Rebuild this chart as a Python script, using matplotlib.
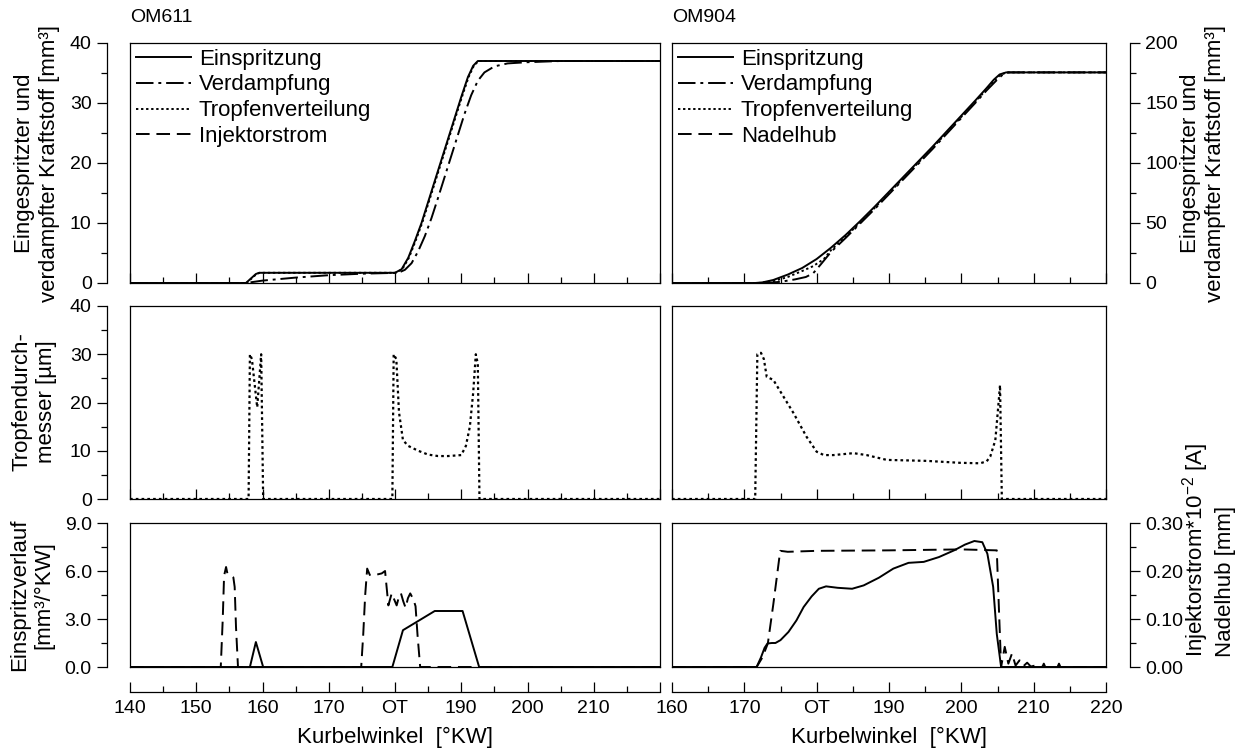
import matplotlib
matplotlib.use("Agg")
import matplotlib.pyplot as plt
from matplotlib.lines import Line2D
from matplotlib.ticker import MultipleLocator, FormatStrFormatter, FixedLocator

plt.rcParams['font.family'] = ['Liberation Sans', 'DejaVu Sans']
plt.rcParams['mathtext.fontset'] = 'custom'
plt.rcParams['mathtext.rm'] = 'Liberation Sans'
plt.rcParams['mathtext.it'] = 'Liberation Sans:italic'

# ---------------- data: OM611 ----------------
tl_x_inj = [140, 157.5, 158.3, 159.0, 159.5, 180.0, 181.0, 182.0, 183.0, 184.0, 185.0, 186.0,
            187.0, 188.0, 189.0, 190.0, 191.0, 191.8, 192.5, 220]
tl_inj = [0, 0, 0.8, 1.5, 1.7, 1.7, 2.3, 4.2, 7.0, 10.0, 13.5, 17.0,
          20.5, 24.0, 27.5, 31.0, 34.3, 36.2, 37.0, 37.0]
tl_x_vap = [140, 157.5, 160, 165, 170, 175, 180.5, 181.5, 182.5, 183.5, 184.5, 185.5, 186.5,
            187.5, 188.5, 189.5, 190.5, 191.5, 192.5, 193.5, 195, 197, 200, 205, 220]
tl_vap = [0, 0, 0.4, 0.9, 1.3, 1.55, 1.7, 2.2, 3.3, 5.3, 7.8, 10.8, 14.2,
          17.7, 21.2, 24.7, 28.2, 31.3, 33.7, 35.1, 36.1, 36.6, 36.8, 37.0, 37.0]
tl_x_drop = [140, 157.6, 158.4, 159.1, 159.6, 180.1, 181.1, 182.1, 183.1, 184.1, 185.1, 186.1,
             187.1, 188.1, 189.1, 190.1, 191.1, 191.9, 192.6, 220]
tl_drop = [0, 0, 0.8, 1.5, 1.7, 1.7, 2.3, 4.2, 7.0, 10.0, 13.5, 17.0,
           20.5, 24.0, 27.5, 31.0, 34.3, 36.2, 37.0, 37.0]

ml_x = [140, 157.9, 158.1, 158.4, 159.2, 159.8, 160.1, 179.6, 179.8, 180.2, 180.6, 181.2, 182.0,
        183.5, 185.0, 186.5, 188.0, 190.0, 190.7, 191.3, 191.8, 192.2, 192.5, 192.75, 220]
ml_d = [0, 0, 30, 29, 19, 30, 0, 0, 30, 29, 18, 12.2, 11.0,
        10.0, 9.2, 8.9, 8.9, 9.1, 11.0, 15.0, 22.0, 30.0, 28.0, 0, 0]

bl_x_cur = [140, 153.7, 154.0, 154.2, 154.5, 154.7, 155.0, 155.6, 155.8, 156.0, 156.3, 174.9,
            175.2, 175.5, 175.8, 176.2, 177.0, 178.0, 178.5, 179.0, 179.5, 179.9, 180.25, 180.6,
            180.9, 181.25, 181.6, 181.95, 182.3, 182.8, 183.1, 183.4, 183.8, 220]
bl_cur = [0, 0, 3.0, 5.7, 6.25, 5.85, 5.8, 5.6, 5.0, 2.5, 0, 0,
          2.0, 4.5, 6.15, 5.75, 5.75, 5.85, 6.0, 3.85, 4.6, 4.2, 3.85, 4.4,
          4.6, 4.1, 3.7, 4.3, 4.6, 4.2, 3.8, 2.0, 0, 0]
bl_x_rate = [140, 158.1, 159.0, 160.1, 179.6, 181.2, 186.0, 190.2, 192.7, 220]
bl_rate = [0, 0, 1.56, 0, 0, 2.3, 3.5, 3.5, 0, 0]

# ---------------- data: OM904 ----------------
tr_x_inj = [160, 171.5, 172.5, 174, 176, 178, 180, 182, 184, 186, 188, 190, 192, 194, 196,
            198, 200, 202, 203.5, 204.5, 205.3, 206.2, 220]
tr_inj = [0, 0, 0.5, 2.5, 7, 12.5, 20, 29.5, 40, 51.5, 63.5, 76, 88.5, 101, 113.5,
          126.5, 139.5, 152.5, 162.5, 169.5, 173.8, 175.5, 175.5]
tr_x_vap = [160, 173, 175, 177, 178.5, 179.5, 180.5, 182, 184, 186, 188, 190, 192, 194, 196,
            198, 200, 202, 203.5, 204.8, 205.6, 206.5, 220]
tr_vap = [0, 0, 1, 3, 5, 8, 15, 26, 37.5, 49.5, 61.5, 74, 86.5, 99, 111.5,
          124.5, 137.5, 150.5, 160.5, 168.5, 173, 175.5, 175.5]
tr_x_drop = [160, 172, 174, 176, 178, 179.5, 181, 182, 184, 186, 188, 190, 192, 194, 196,
             198, 200, 202, 203.5, 204.6, 205.4, 206.3, 220]
tr_drop = [0, 0, 1.5, 5, 10, 14, 20, 27.5, 38.5, 50.5, 62.5, 75, 87.5, 100, 112.5,
           125.5, 138.5, 151.5, 161.5, 169, 173.5, 175.5, 175.5]

mr_x = [160, 171.5, 171.8, 172.3, 172.7, 173.1, 174.0, 175.5, 176.8, 178.6, 180.0, 181.0, 182.3,
        185.1, 186.9, 189.7, 192.5, 195.2, 199.8, 202.6, 203.5, 204.0, 204.7, 205.1, 205.35,
        205.6, 220]
mr_d = [0, 0, 30, 30.3, 29, 25.3, 24.7, 21, 17.8, 12.9, 9.8, 9.1, 9.1,
        9.5, 9.1, 8.1, 8.0, 7.9, 7.5, 7.4, 7.8, 8.8, 12.2, 19.1, 23.6,
        0, 0]

br_x_needle = [160, 171.7, 172.5, 173.25, 174.0, 174.96, 175.5, 176, 180, 190, 200, 204.9,
               205.2, 205.5, 206.0, 206.5, 207.0, 207.5, 208.05, 208.6, 209.1, 209.6, 210.2,
               211.2, 211.4, 211.6, 213.3, 213.5, 213.7, 220]
br_needle = [0, 0, 0.02, 0.049, 0.13, 0.242, 0.241, 0.240, 0.242, 0.243, 0.245, 0.243,
             0.12, 0, 0.042, 0.007, 0.028, 0.003, 0.014, 0.002, 0.009, 0.001, 0.003,
             0, 0.007, 0, 0, 0.007, 0, 0]
br_x_rate = [160, 171.7, 172.3, 172.8, 173.2, 173.8, 174.3, 175.0, 176.1, 177.2, 178.2, 179.3,
             180.3, 181.3, 182.9, 184.9, 186.5, 188.6, 190.6, 192.7, 194.8, 196.9, 199.0,
             200.5, 201.8, 202.9, 203.6, 204.4, 204.9, 205.5, 220]
br_rate = [0, 0, 0.02, 0.04, 0.049, 0.05, 0.05, 0.056, 0.073, 0.097, 0.125, 0.147,
           0.163, 0.168, 0.165, 0.163, 0.170, 0.186, 0.205, 0.217, 0.219, 0.229, 0.243,
           0.255, 0.2625, 0.260, 0.236, 0.167, 0.069, 0, 0]

left_xlabels = ['140', '150', '160', '170', 'OT', '190', '200', '210', '']
right_xlabels = ['160', '170', 'OT', '190', '200', '210', '220']

# ---------------- styles ----------------
W, H = 1251, 751
FS_TICK = 14
FS_LAB = 16
LW = 1.4
ls_solid = '-'
ls_dashdot = (0, (9, 2.5, 1.5, 2.5))
ls_dot = (0, (1.2, 1.4))
ls_dash = (0, (7, 3.5))

fig = plt.figure(figsize=(W / 100, H / 100), dpi=100)


def rect(x0, x1, y0, y1):
    return [x0 / W, 1 - y1 / H, (x1 - x0) / W, (y1 - y0) / H]


LX = (130, 660)
RX = (672, 1106)
TY = (43, 283)
MY = (306, 499)
BY = (523, 667)

axes = {}
for name, xr, yr in [('tl', LX, TY), ('ml', LX, MY), ('bl', LX, BY),
                     ('tr', RX, TY), ('mr', RX, MY), ('br', RX, BY)]:
    ax = fig.add_axes(rect(xr[0], xr[1], yr[0], yr[1]))
    for s in ax.spines.values():
        s.set_linewidth(0.9)
    ax.tick_params(axis='y', left=False, labelleft=False)
    if name[1] == 'l':
        ax.set_xlim(140, 220)
    else:
        ax.set_xlim(160, 220)
    ax.xaxis.set_major_locator(MultipleLocator(10))
    ax.xaxis.set_minor_locator(MultipleLocator(5))
    if name[0] == 'b':
        ax.tick_params(axis='x', which='both', bottom=False, labelbottom=False)
    else:
        ax.tick_params(axis='x', which='both', direction='in', labelbottom=False, width=0.9)
        ax.tick_params(axis='x', which='major', length=7)
        ax.tick_params(axis='x', which='minor', length=4)
    axes[name] = ax

# top panels
ax = axes['tl']
ax.set_ylim(0, 40)
ax.plot(tl_x_drop, tl_drop, color='black', lw=LW, linestyle=ls_dot)
ax.plot(tl_x_vap, tl_vap, color='black', lw=LW, linestyle=ls_dashdot)
ax.plot(tl_x_inj, tl_inj, color='black', lw=LW, linestyle=ls_solid)

ax = axes['tr']
ax.set_ylim(0, 200)
ax.plot(tr_x_drop, tr_drop, color='black', lw=LW, linestyle=ls_dot)
ax.plot(tr_x_vap, tr_vap, color='black', lw=LW, linestyle=ls_dashdot)
ax.plot(tr_x_inj, tr_inj, color='black', lw=LW, linestyle=ls_solid)

# middle panels
axes['ml'].set_ylim(0, 40)
axes['ml'].plot(ml_x, ml_d, color='black', lw=1.6, linestyle=ls_dot)
axes['mr'].set_ylim(0, 40)
axes['mr'].plot(mr_x, mr_d, color='black', lw=1.6, linestyle=ls_dot)

# bottom panels
ax = axes['bl']
ax.set_ylim(0, 9)
ax.plot(bl_x_cur, bl_cur, color='black', lw=LW, linestyle=ls_dash)
ax.plot(bl_x_rate, bl_rate, color='black', lw=LW, linestyle=ls_solid)

ax = axes['br']
ax.set_ylim(0, 0.3)
ax.plot(br_x_needle, br_needle, color='black', lw=LW, linestyle=ls_dash)
ax.plot(br_x_rate, br_rate, color='black', lw=LW, linestyle=ls_solid)

# legends
for name, last in [('tl', 'Injektorstrom'), ('tr', 'Nadelhub')]:
    handles = [Line2D([], [], color='black', lw=LW, linestyle=ls_solid),
               Line2D([], [], color='black', lw=LW, linestyle=ls_dashdot),
               Line2D([], [], color='black', lw=LW, linestyle=ls_dot),
               Line2D([], [], color='black', lw=LW, linestyle=ls_dash)]
    labels = ['Einspritzung', 'Verdampfung', 'Tropfenverteilung', last]
    axes[name].legend(handles, labels, loc='upper left', bbox_to_anchor=(0, 1),
                      frameon=False, fontsize=FS_LAB, handlelength=2.5,
                      handletextpad=0.35, labelspacing=0.22, borderpad=0.25,
                      borderaxespad=0.0)


# detached left y axes
def left_axis(ax, major, minor, fmt=None):
    off = -(23 / (LX[1] - LX[0]))
    sec = ax.secondary_yaxis(off)
    sec.set_yticks(major)
    sec.yaxis.set_minor_locator(MultipleLocator(minor))
    sec.tick_params(which='both', direction='out', labelsize=FS_TICK, width=0.9, pad=4)
    sec.tick_params(which='major', length=7)
    sec.tick_params(which='minor', length=4.5)
    sec.spines['left'].set_linewidth(0.9)
    if fmt:
        sec.yaxis.set_major_formatter(FormatStrFormatter(fmt))
    return sec


left_axis(axes['tl'], [0, 10, 20, 30, 40], 5)
left_axis(axes['ml'], [0, 10, 20, 30, 40], 5)
left_axis(axes['bl'], [0, 3, 6, 9], 1.5, '%.1f')


def right_axis(ax, major, minor, fmt=None):
    off = 1 + 24 / (RX[1] - RX[0])
    sec = ax.secondary_yaxis(off)
    sec.set_yticks(major)
    sec.yaxis.set_minor_locator(MultipleLocator(minor))
    sec.tick_params(which='both', direction='out', labelsize=FS_TICK, width=0.9, pad=4)
    sec.tick_params(which='major', length=7)
    sec.tick_params(which='minor', length=4.5)
    sec.spines['right'].set_linewidth(0.9)
    if fmt:
        sec.yaxis.set_major_formatter(FormatStrFormatter(fmt))
    return sec


right_axis(axes['tr'], [0, 50, 100, 150, 200], 25)
right_axis(axes['br'], [0, 0.1, 0.2, 0.3], 0.05, '%.2f')


# detached x axes
def bottom_axis(ax, lo, hi, labels):
    off = -(25 / (BY[1] - BY[0]))
    sec = ax.secondary_xaxis(off)
    sec.xaxis.set_major_locator(FixedLocator(list(range(lo, hi + 1, 10))))
    sec.set_xticklabels(labels)
    sec.xaxis.set_minor_locator(MultipleLocator(5))
    sec.tick_params(which='both', direction='in', labelsize=FS_TICK, width=0.9, pad=6)
    sec.tick_params(which='major', length=7)
    sec.tick_params(which='minor', length=4)
    sec.spines['bottom'].set_linewidth(0.9)
    return sec


bottom_axis(axes['bl'], 140, 220, left_xlabels)
bottom_axis(axes['br'], 160, 220, right_xlabels)

# texts
fig.text(130 / W, 1 - 18 / H, 'OM611', fontsize=FS_TICK, va='center', ha='left')
fig.text(672 / W, 1 - 18 / H, 'OM904', fontsize=FS_TICK, va='center', ha='left')

fig.text(395 / W, 1 - 737 / H, 'Kurbelwinkel  [°KW]', fontsize=FS_LAB, ha='center', va='center')
fig.text(889 / W, 1 - 737 / H, 'Kurbelwinkel  [°KW]', fontsize=FS_LAB, ha='center', va='center')

fig.text(37 / W, 1 - 163 / H, 'Eingespritzter und\nverdampfter Kraftstoff [mm³]',
         fontsize=FS_LAB, rotation=90, ha='center', va='center', multialignment='center')
fig.text(34 / W, 1 - 402 / H, 'Tropfendurch-\nmesser [µm]',
         fontsize=FS_LAB, rotation=90, ha='center', va='center', multialignment='center')
fig.text(32 / W, 1 - 595 / H, 'Einspritzverlauf\n[mm³/°KW]',
         fontsize=FS_LAB, rotation=90, ha='center', va='center', multialignment='center')
fig.text(1203 / W, 1 - 163 / H, 'Eingespritzter und\nverdampfter Kraftstoff [mm³]',
         fontsize=FS_LAB, rotation=90, ha='center', va='center', multialignment='center')
fig.text(1208 / W, 1 - 657 / H, 'Injektorstrom*10$^{-2}$ [A]\nNadelhub [mm]',
         fontsize=FS_LAB, rotation=90, ha='center', va='bottom', multialignment='left')

fig.savefig('out.png', dpi=100)
